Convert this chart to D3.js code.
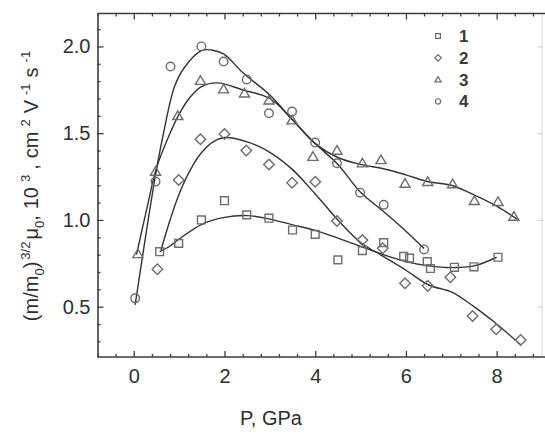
<!DOCTYPE html>
<html><head><meta charset="utf-8">
<script src="https://cdn.jsdelivr.net/npm/d3@7"></script>
<style>body{margin:0;background:#fff}svg{display:block}text{font-family:Arial,"Liberation Sans",sans-serif}</style>
</head><body><div id="chart"></div>
<script>
// ---- data ----
const seriesNames = ["1", "2", "3", "4"];
const p1 = [0.57,0.99,1.49,2.0,2.49,2.98,3.5,4.0,4.5,5.04,5.51,5.95,6.08,6.47,6.54,7.07,7.5,8.03];
const v1 = [0.817,0.865,1.0,1.111,1.029,1.01,0.942,0.917,0.77,0.823,0.869,0.79,0.78,0.76,0.72,0.727,0.73,0.785];
const p2 = [0.52,0.99,1.47,2.0,2.48,2.98,3.49,4.0,4.48,5.04,5.49,5.98,6.48,6.98,7.47,7.99,8.53];
const v2 = [0.716,1.23,1.465,1.496,1.40,1.32,1.215,1.22,0.994,0.885,0.837,0.635,0.62,0.67,0.446,0.37,0.308];
const p3 = [0.09,0.48,0.97,1.47,1.98,2.44,2.98,3.49,3.95,4.48,5.04,5.45,5.98,6.48,7.03,7.51,8.03,8.38];
const v3 = [0.804,1.279,1.60,1.803,1.754,1.73,1.69,1.575,1.365,1.40,1.327,1.346,1.21,1.22,1.207,1.11,1.105,1.02];
const p4 = [0.03,0.48,0.81,1.49,1.98,2.49,2.98,3.49,4.0,4.48,4.99,5.51,6.40];
const v4 = [0.548,1.221,1.884,2.0,1.913,1.81,1.615,1.625,1.446,1.327,1.157,1.087,0.83];
// fitted curves
const f1p = [0.57,0.8,1.0,1.5,2.0,2.5,3.0,3.5,4.0,4.5,5.0,5.5,6.0,6.5,7.0,7.5,8.0];
const f1v = [0.817,0.85,0.89,0.975,1.015,1.025,1.005,0.972,0.94,0.895,0.848,0.80,0.76,0.735,0.725,0.735,0.785];
const f2p = [0.6,0.8,1.0,1.25,1.5,1.75,2.0,2.5,3.0,3.5,4.0,4.5,5.0,5.5,6.0,6.5,7.0,7.5,8.0,8.53];
const f2v = [0.827,1.0,1.15,1.29,1.39,1.45,1.475,1.45,1.39,1.29,1.15,1.0,0.87,0.79,0.71,0.625,0.585,0.50,0.40,0.28];
const f3p = [0.06,0.3,0.5,0.75,1.0,1.25,1.5,1.85,2.4,3.0,3.5,4.0,4.5,5.0,5.5,6.0,6.5,7.0,7.5,8.0,8.45];
const f3v = [0.80,1.08,1.30,1.47,1.61,1.71,1.77,1.79,1.75,1.70,1.577,1.44,1.36,1.32,1.295,1.26,1.22,1.20,1.145,1.08,1.005];
const f4p = [0.03,0.46,0.64,0.9,1.12,1.49,1.71,1.98,2.4,3.0,3.5,4.0,4.5,5.0,5.5,6.0,6.4];
const f4v = [0.51,1.23,1.48,1.77,1.88,1.976,1.98,1.957,1.85,1.72,1.577,1.44,1.32,1.16,1.05,0.935,0.835];
const xMajorTicks = [0, 2, 4, 6, 8];
const yMajorTicks = [0.5, 1.0, 1.5, 2.0];
const xLabel = "P, GPa";

// ---- layout ----
const W = 545, H = 442;
const svg = d3.select("#chart").append("svg").attr("width", W).attr("height", H);
const x = d3.scaleLinear().domain([-0.8, 9.0]).range([97.5, 542]);
const y = d3.scaleLinear().domain([0.21, 2.19]).range([357, 13.5]);
const axisCol = "#3c3c3c", markCol = "#6c6c6c", lineCol = "#333", textCol = "#2e2e2e";
const FS = 20;

// frame
svg.append("line").attr("x1", x(9.0)).attr("x2", x(9.0)).attr("y1", y(2.19)).attr("y2", y(0.21)).attr("stroke", "#d8d8d8").attr("stroke-width", 1);
svg.append("line").attr("x1", x(-0.8)).attr("x2", W).attr("y1", y(2.19)).attr("y2", y(2.19)).attr("stroke", axisCol).attr("stroke-width", 1.6);

const xMinor = d3.range(-0.8, 9.0, 0.4).filter(v => !xMajorTicks.some(m => Math.abs(m - v) < 1e-6));
const yMinor = d3.range(0.3, 2.15, 0.1).filter(v => !yMajorTicks.some(m => Math.abs(m - v) < 1e-6));

const xAxis = d3.axisBottom(x).tickValues(xMajorTicks).tickFormat(d3.format("d")).tickSizeInner(-6).tickSizeOuter(0).tickPadding(12);
const gx = svg.append("g").attr("transform", `translate(0,${y(0.21)})`).call(xAxis);
const gxm = svg.append("g").attr("transform", `translate(0,${y(0.21)})`).call(d3.axisBottom(x).tickValues(xMinor).tickFormat("").tickSizeInner(-3).tickSizeOuter(0));
const gxt = svg.append("g").attr("transform", `translate(0,${y(2.19)})`).call(d3.axisTop(x).tickValues(xMajorTicks).tickFormat("").tickSizeInner(-6).tickSizeOuter(0));
const gxtm = svg.append("g").attr("transform", `translate(0,${y(2.19)})`).call(d3.axisTop(x).tickValues(xMinor).tickFormat("").tickSizeInner(-3).tickSizeOuter(0));
const yAxis = d3.axisLeft(y).tickValues(yMajorTicks).tickFormat(d3.format(".1f")).tickSizeInner(-6).tickSizeOuter(0).tickPadding(7);
const gy = svg.append("g").attr("transform", `translate(${x(-0.8)},0)`).call(yAxis);
const gym = svg.append("g").attr("transform", `translate(${x(-0.8)},0)`).call(d3.axisLeft(y).tickValues(yMinor).tickFormat("").tickSizeInner(-3).tickSizeOuter(0));
const gyr = svg.append("g").attr("transform", `translate(${x(9.0)},0)`).call(d3.axisRight(y).tickValues(yMajorTicks).tickFormat("").tickSizeInner(-5).tickSizeOuter(0));
gyr.selectAll("line").attr("stroke", "#cfcfcf");
gyr.select(".domain").remove();
[gxt, gxtm, gxm, gym].forEach(g => g.select(".domain").remove());
[gx, gy].forEach(g => g.select(".domain").attr("stroke", axisCol).attr("stroke-width", 1.6));
[gx, gxm, gxt, gxtm, gy, gym].forEach(g => g.selectAll(".tick line").attr("stroke", axisCol).attr("stroke-width", 1.3));
[gx, gy].forEach(g => g.selectAll(".tick text").attr("font-size", FS).attr("fill", textCol).attr("font-family", "Arial, 'Liberation Sans', sans-serif"));
gx.select(".domain").attr("d", `M${x(-0.8)},0H${W}`);

// axis titles
svg.append("text").attr("x", 271).attr("y", 425).attr("text-anchor", "middle").attr("font-size", FS).attr("fill", textCol).text(xLabel);
const yt = svg.append("text").attr("transform", "translate(38,186) rotate(-90)").attr("text-anchor", "middle").attr("font-size", FS).attr("fill", textCol);
const parts = [["(m/m", 0, 0], ["0", -1, 0], [")", 0, 0], ["3/2", 1, 2], ["μ", 0, 2], ["0", -1, 0], [",", 0, 0], ["10", 0, 6], ["3", 1, 5], [",", 0, 5], ["cm", 0, 6], ["2", 1, 5], ["V", 0, 6], ["-1", 1, 5], ["s", 0, 6], ["-1", 1, 5]];
let prev = 0;
parts.forEach(([t, s, dx]) => {
  const sh = s === 1 ? -8 : (s === -1 ? 6 : 0);
  yt.append("tspan").attr("dy", sh - prev).attr("dx", dx).attr("font-size", s === 0 ? FS : 13).text(t);
  prev = sh;
});

// fit curves
const line = d3.line().x(d => x(d[0])).y(d => y(d[1])).curve(d3.curveCatmullRom.alpha(0.5));
[[f1p, f1v], [f2p, f2v], [f3p, f3v], [f4p, f4v]].forEach(([p, v]) => {
  svg.append("path").datum(p.map((d, i) => [d, v[i]])).attr("d", line).attr("fill", "none").attr("stroke", lineCol).attr("stroke-width", 1.4);
});

// markers
function shape(kind, s) {
  if (kind === 0) return `M${-s},${-s}h${2*s}v${2*s}h${-2*s}Z`;
  if (kind === 1) return `M0,${-s*1.35}L${s*1.35},0L0,${s*1.35}L${-s*1.35},0Z`;
  if (kind === 2) return `M0,${-s*1.25}L${s*1.3},${s*0.95}L${-s*1.3},${s*0.95}Z`;
  return d3.arc()({innerRadius: 0, outerRadius: s*1.1, startAngle: 0, endAngle: 2*Math.PI});
}
[[p1, v1], [p2, v2], [p3, v3], [p4, v4]].forEach(([p, v], k) => {
  svg.append("g").selectAll("path").data(p.map((d, i) => [d, v[i]])).join("path")
    .attr("transform", d => `translate(${x(d[0])},${y(d[1])})`)
    .attr("d", shape(k, 3.9)).attr("fill", "none").attr("stroke", markCol).attr("stroke-width", 1.4);
});

// legend
const leg = svg.append("g");
seriesNames.forEach((n, k) => {
  const ly = 36 + k * 21.8;
  leg.append("path").attr("transform", `translate(438,${ly})`).attr("d", shape(k, 2.4)).attr("fill", "none").attr("stroke", markCol).attr("stroke-width", 1.2);
  leg.append("text").attr("x", 459).attr("y", ly + 6).attr("font-size", 17).attr("font-weight", "bold").attr("fill", "#3a3a3a").text(n);
});
</script>
</body></html>
